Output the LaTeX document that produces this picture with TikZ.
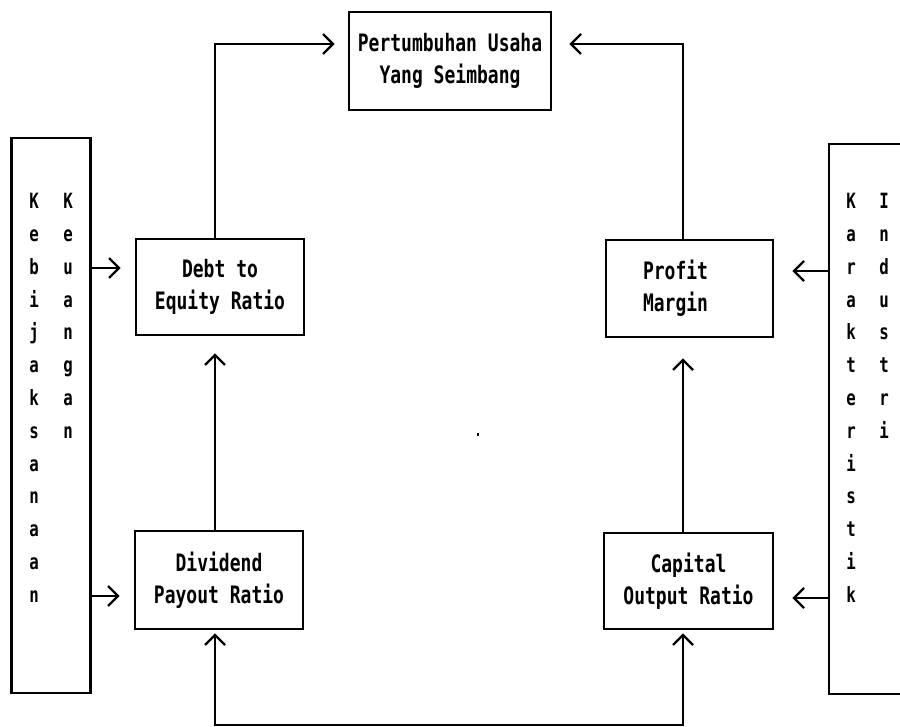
\documentclass[tikz,border=0pt]{standalone}
\usepackage{fontspec}
\newfontfamily\pixfont[FakeStretch=0.75]{DejaVu Sans Mono}
\usetikzlibrary{arrows.meta}
\begin{document}
\begin{tikzpicture}[x=1pt,y=-1pt,line width=2.6pt,
  box/.style={draw,rectangle,inner sep=0pt,align=center,
    font=\pixfont\bfseries\fontsize{24}{32}\selectfont},
  side/.style={draw,rectangle,inner sep=0pt},
  vtext/.style={inner sep=0pt,align=center,anchor=north,
    font=\pixfont\bfseries\fontsize{21}{32.8}\selectfont},
  arr/.style={-{Straight Barb[length=10pt,width=20pt,line width=2.4pt]}},
  arrboth/.style={{Straight Barb[length=10pt,width=20pt,line width=2.4pt]}-{Straight Barb[length=10pt,width=20pt,line width=2.4pt]}}]
\useasboundingbox (0,0) rectangle (900,727);
\clip (0,0) rectangle (900,727);
% nodes
\node[box,minimum width=202pt,minimum height=98pt] (top) at (450,61) {Pertumbuhan Usaha\\Yang Seimbang};
\node[box,minimum width=168pt,minimum height=96pt] (debt) at (220,287) {Debt to\\Equity Ratio};
\node[box,minimum width=168pt,minimum height=98pt] (div) at (219,580) {Dividend\\Payout Ratio};
\node[box,text width=93pt,inner xsep=37pt,align=left,minimum height=97pt] (profit) at (689.5,288.5) {Profit\\Margin};
\node[box,minimum width=169pt,minimum height=96pt] (cap) at (688.5,581) {Capital\\Output Ratio};
\node[side,minimum width=79pt,minimum height=555pt] (kebij) at (51.2,415.5) {};
\node[side,minimum width=146pt,minimum height=550pt] (indus) at (902,419) {};
\node[vtext] (colA) at (34,192) {K\\e\\b\\i\\j\\a\\k\\s\\a\\n\\a\\a\\n};
\node[vtext] (colB) at (68,192) {K\\e\\u\\a\\n\\g\\a\\n};
\node[vtext] (colC) at (851,192) {K\\a\\r\\a\\k\\t\\e\\r\\i\\s\\t\\i\\k};
\node[vtext] (colD) at (884,192) {I\\n\\d\\u\\s\\t\\r\\i};
% helper coordinates
\coordinate (lx) at (215,0);
\coordinate (rx) at (683,0);
\coordinate (ty) at (0,44);
\coordinate (by) at (0,725);
\coordinate (ya) at (0,268);
\coordinate (yb) at (0,596);
\coordinate (yc) at (0,271);
\coordinate (yd) at (0,598);
% connectors
\draw[arr,shorten >=13pt] (debt.north -| lx) |- (top.west |- ty);
\draw[arr,shorten >=17pt] (profit.north -| rx) |- (top.east |- ty);
\draw[arr,shorten >=17pt] (div.north -| lx) -- (debt.south -| lx);
\draw[arr,shorten >=20pt] (cap.north -| rx) -- (profit.south -| rx);
\draw[arrboth,shorten <=3pt,shorten >=3pt] (div.south -| lx) -- (lx |- by) -- (rx |- by) -- (cap.south -| rx);
\draw[arr,shorten >=14pt] (kebij.east |- ya) -- (debt.west |- ya);
\draw[arr,shorten >=14pt] (kebij.east |- yb) -- (div.west |- yb);
\draw[arr,shorten >=18pt] (indus.west |- yc) -- (profit.east |- yc);
\draw[arr,shorten >=18pt] (indus.west |- yd) -- (cap.east |- yd);
\fill (477,433) rectangle (479,436);
\end{tikzpicture}
\end{document}
